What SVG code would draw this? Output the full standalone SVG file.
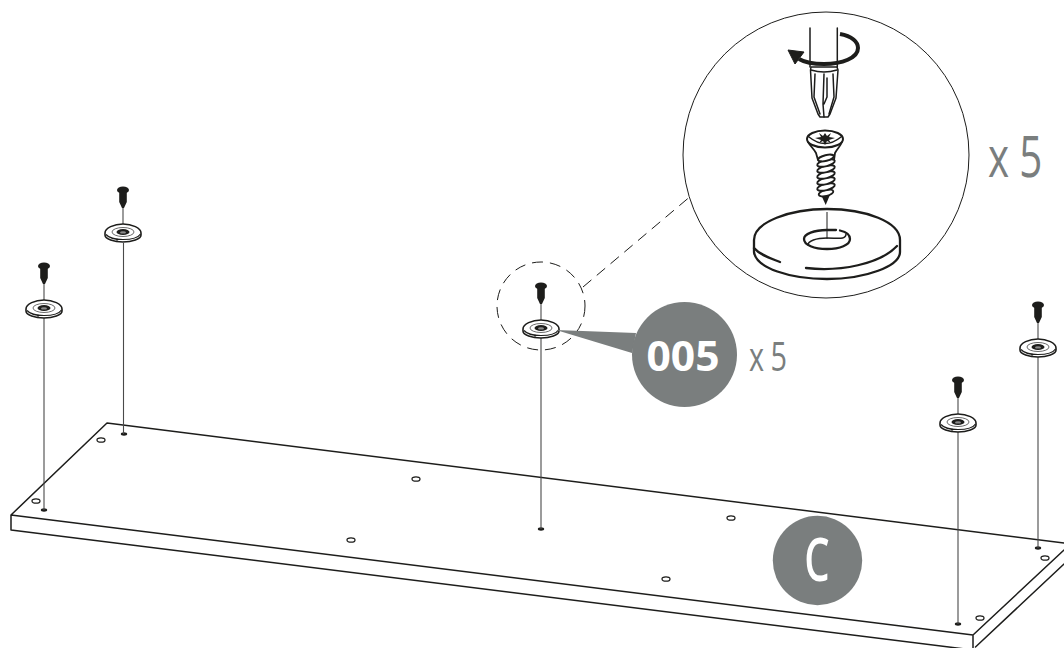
<svg xmlns="http://www.w3.org/2000/svg" width="1064" height="648" viewBox="0 0 1064 648">
<style>
.l{fill:none;stroke:#1d1d1b;stroke-width:1.5;stroke-linecap:round;stroke-linejoin:round}
.thin{fill:none;stroke:#1d1d1b;stroke-width:1}
.pin{fill:none;stroke:#4a4a4a;stroke-width:1.1}
.t{fill:none;stroke:#1d1d1b;stroke-width:2.3;stroke-linecap:round;stroke-linejoin:round}
.coil{fill:#fff;stroke:#1d1d1b;stroke-width:1.9}
.hole{fill:#fff;stroke:#1d1d1b;stroke-width:1.3}
.gray{fill:#7a7e7e}
.txt{font-family:"Open Sans","Liberation Sans",sans-serif}
</style>
<defs>
<g id="fix">
<ellipse cx="0" cy="-42" rx="6" ry="3.6" fill="#1d1d1b"/>
<path d="M-3.800 -41L-3.800 -30L-1 -24L1 -24L3.800 -30L3.800 -41Z" fill="#1d1d1b"/>
<path d="M0 -24V-6" class="pin"/>
<path d="M-18 1C-18 -4 -9 -8 0 -8C9 -8 18 -4 18 1V3C18 7 9 10 0 10C-9 10 -18 7 -18 3Z" fill="#fff" stroke="#1d1d1b" stroke-width="1.6"/>
<path d="M-17 2.500C-14 6 -7 7.500 0 7.500C8 7.500 15 6 17.500 2" fill="none" stroke="#1d1d1b" stroke-width="1.200"/>
<ellipse cx="0" cy="0" rx="11" ry="4.500" fill="none" stroke="#6a6a6a" stroke-width="1"/>
<ellipse cx="0" cy="0" rx="6.500" ry="3" fill="#1d1d1b"/>
<ellipse cx="0" cy="0.400" rx="3" ry="1.200" fill="#8a8a8a"/>
<path d="M-6 6.500V10" class="thin"/>
</g>
<ellipse id="pinhole" rx="3.200" ry="1.700" fill="#1d1d1b"/>
<ellipse id="openhole" rx="4" ry="2.200" class="hole"/>
</defs>
<g id="board">
<path d="M107 423L1064 543M107 423L11 515L973 635L1064 550M11 515V530L973 650M973 635V648M975.500 647L1064 564" class="l"/>
<use href="#openhole" x="36" y="501"/><use href="#openhole" x="101" y="440"/>
<use href="#openhole" x="416" y="479"/><use href="#openhole" x="351" y="540"/>
<use href="#openhole" x="666" y="579"/><use href="#openhole" x="731" y="518"/>
<use href="#openhole" x="980" y="618"/><use href="#openhole" x="1045" y="558"/>
<use href="#pinhole" x="44" y="510"/><use href="#pinhole" x="124" y="434"/>
<use href="#pinhole" x="541" y="529"/><use href="#pinhole" x="958" y="624"/>
<use href="#pinhole" x="1038" y="548"/>
</g>
<g id="connectors">
<path d="M44 318V510M123.500 243V434M541 338V529M958 432V624M1038 357V548" class="pin"/>
<path d="M583 287L692 195" fill="none" stroke="#1d1d1b" stroke-width="1" stroke-dasharray="11 7"/>
</g>
<g id="fixing-1"><use href="#fix" x="44" y="308"/></g>
<g id="fixing-2"><use href="#fix" x="123" y="232"/></g>
<g id="fixing-3"><use href="#fix" x="541" y="328"/></g>
<g id="fixing-4"><use href="#fix" x="958" y="422"/></g>
<g id="fixing-5"><use href="#fix" x="1038" y="347"/></g>
<g id="detail-ring"><circle cx="541" cy="306" r="44" fill="none" stroke="#1d1d1b" stroke-width="1" stroke-dasharray="11 7"/></g>
<g id="callout-005">
<path d="M556 330L636 333L632 353Z" class="gray"/>
<circle cx="684.500" cy="354.500" r="52.500" class="gray"/>
<text x="683" y="371" text-anchor="middle" class="txt" font-size="42" font-weight="700" fill="#fff" textLength="73" lengthAdjust="spacingAndGlyphs">005</text>
<text class="txt gray" font-size="40" transform="translate(749 371) scale(.72 1)" letter-spacing="9">x5</text>
</g>
<g id="panel-c">
<circle cx="817.500" cy="560.500" r="44.700" class="gray"/>
<text class="txt" font-size="59" font-weight="600" fill="#fff" transform="translate(817 581) scale(.68 1)" text-anchor="middle">C</text>
</g>
<g id="detail">
<circle cx="826" cy="155" r="143" fill="#fff" stroke="#1d1d1b" stroke-width="1"/>
<path d="M810 28V67M837.300 28V67" class="l"/>
<path d="M811 67L837 67L838 70L836 98L830 114L828 117H820L818 114L812 98L810.500 70Z" class="l" fill="#fff"/>
<path d="M815 74L814 97L820 114M833 74L834 97L829 114M824 74L823 104L824 117M811 70Q824 74 837 70M827 78L827 97L824 104" class="l"/>
<path d="M840 34C852 36 858 42 858 48C858 58 842 64 824 64C812 64 804 62 799 59" fill="none" stroke="#1d1d1b" stroke-width="4"/>
<path d="M788 50L804 52L795 64Z" fill="#1d1d1b" stroke="#1d1d1b" stroke-width="1" stroke-linejoin="round"/>
<path d="M808 142C811 147 814 149 816 153L818 160H834L835 153C837 149 840 147 842 142Z" fill="#fff" stroke="#1d1d1b" stroke-width="1.800" stroke-linejoin="round"/>
<g transform="translate(826 0)">
<path d="M-7 190L-0.300 205L6 190Z" fill="#1d1d1b"/>
<ellipse cy="193" rx="7.500" ry="3" transform="rotate(-14 0 193)" class="coil"/>
<ellipse cy="187" rx="9" ry="3.200" transform="rotate(-14 0 187)" class="coil"/>
<ellipse cy="181" rx="9" ry="3.200" transform="rotate(-14 0 181)" class="coil"/>
<ellipse cy="175" rx="9" ry="3.200" transform="rotate(-14 0 175)" class="coil"/>
<ellipse cy="169" rx="9" ry="3.200" transform="rotate(-14 0 169)" class="coil"/>
<ellipse cy="163" rx="9" ry="3.200" transform="rotate(-14 0 163)" class="coil"/>
<ellipse cy="158" rx="8" ry="2.800" transform="rotate(-14 0 158)" class="coil"/>
</g>
<ellipse cx="825" cy="139" rx="18" ry="8.500" fill="#fff" stroke="#1d1d1b" stroke-width="2"/>
<path d="M809 137Q825 150 841 137" class="l"/>
<path d="M825 133L827 136L831 133L829 137L835 138L829 140L831 143L827 141L825 145L823 141L819 143L821 140L815 138L821 137L819 133L823 136Z" fill="#1d1d1b"/>
<path d="M827 212V239" class="thin"/>
<path d="M754 248C760 255 770 258 780 262M806 268C840 272 880 264 897 246" class="t"/>
<path d="M827 209C790 209 754 222 754 240C754 250 754 250 754 252C756 268 790 279 827 279C866 279 900 266 900 252C900 250 900 248 900 240C900 222 866 209 827 209Z" class="t"/>
<path d="M840 230.500C847 232 850 235 850 239C850 245 840 249 827 249C814 249 804 245 804 239C804 234 814 230 827 230C830 230 832 230 836 230" class="t"/>
<path d="M808 245C808 241 816 238 827 238C838 238 846 240 846 234" class="l"/>
</g>
<g id="count"><text class="txt gray" font-size="56" transform="translate(988 177) scale(.72 1)" letter-spacing="14">x5</text></g>
</svg>
